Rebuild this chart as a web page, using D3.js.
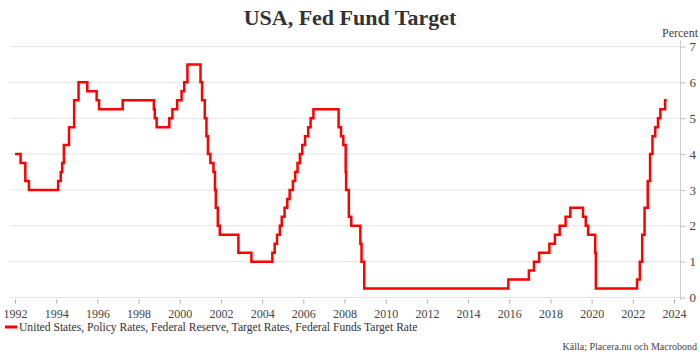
<!DOCTYPE html>
<html><head><meta charset="utf-8">
<script src="https://cdn.jsdelivr.net/npm/d3@7"></script>
<style>
body{margin:0;background:#fff;}
svg{display:block;}
</style></head>
<body>
<svg id="c" width="700" height="357"></svg>
<script>
const changeDates = ["1992-01-01","1992-04-09","1992-07-02","1992-09-04","1994-02-04","1994-03-22","1994-04-18","1994-05-17","1994-08-16","1994-11-15","1995-02-01","1995-07-06","1995-12-19","1996-01-31","1997-03-25","1998-09-29","1998-10-15","1998-11-17","1999-06-30","1999-08-24","1999-11-16","2000-02-02","2000-03-21","2000-05-16","2001-01-03","2001-01-31","2001-03-20","2001-04-18","2001-05-15","2001-06-27","2001-08-21","2001-09-17","2001-10-02","2001-11-06","2001-12-11","2002-11-06","2003-06-25","2004-06-30","2004-08-10","2004-09-21","2004-11-10","2004-12-14","2005-02-02","2005-03-22","2005-05-03","2005-06-30","2005-08-09","2005-09-20","2005-11-01","2005-12-13","2006-01-31","2006-03-28","2006-05-10","2006-06-29","2007-09-18","2007-10-31","2007-12-11","2008-01-22","2008-01-30","2008-03-18","2008-04-30","2008-10-08","2008-10-29","2008-12-16","2015-12-16","2016-12-14","2017-03-15","2017-06-14","2017-12-13","2018-03-21","2018-06-13","2018-09-26","2018-12-19","2019-08-01","2019-09-19","2019-10-31","2020-03-04","2020-03-16","2022-03-17","2022-05-05","2022-06-16","2022-07-28","2022-09-22","2022-11-03","2022-12-15","2023-02-02","2023-03-23","2023-05-04","2023-07-27","2023-08-25"];
const rateValues = [4.00,3.75,3.25,3.00,3.25,3.50,3.75,4.25,4.75,5.50,6.00,5.75,5.50,5.25,5.50,5.25,5.00,4.75,5.00,5.25,5.50,5.75,6.00,6.50,6.00,5.50,5.00,4.50,4.00,3.75,3.50,3.00,2.50,2.00,1.75,1.25,1.00,1.25,1.50,1.75,2.00,2.25,2.50,2.75,3.00,3.25,3.50,3.75,4.00,4.25,4.50,4.75,5.00,5.25,4.75,4.50,4.25,3.50,3.00,2.25,2.00,1.50,1.00,0.25,0.50,0.75,1.00,1.25,1.50,1.75,2.00,2.25,2.50,2.25,2.00,1.75,1.25,0.25,0.50,1.00,1.75,2.50,3.25,4.00,4.50,4.75,5.00,5.25,5.50,5.50];
const yTicks = [0,1,2,3,4,5,6,7];
const xTickYears = [1992,1994,1996,1998,2000,2002,2004,2006,2008,2010,2012,2014,2016,2018,2020,2022,2024];
const titleText = "USA, Fed Fund Target";
const unitText = "Percent";
const legendText = "United States, Policy Rates, Federal Reserve, Target Rates, Federal Funds Target Rate";
const sourceText = "Källa; Placera.nu och Macrobond";

const parse = d3.timeParse("%Y-%m-%d");
const data = changeDates.map((d,i)=>({date:parse(d), v:rateValues[i]}));

const svg = d3.select("#c");
const serif = "'Liberation Serif','DejaVu Serif',serif";
const x = d3.scaleTime().domain([new Date(1992,0,1), new Date(2024,0,1)]).range([15,674]);
const y = d3.scaleLinear().domain([0,7]).range([297.5,46.5]);

// gridlines
svg.append("g").selectAll("line").data(yTicks).join("line")
  .attr("x1",10).attr("x2",680).attr("y1",d=>y(d)).attr("y2",d=>y(d))
  .attr("stroke","#e3e3e3").attr("stroke-width",1);

// right axis
const yAxis = d3.axisRight(y).tickValues(yTicks).tickSize(5).tickPadding(4).tickFormat(d3.format("d"));
const gy = svg.append("g").attr("transform","translate(680.5,0)").call(yAxis);
gy.select(".domain").attr("d","M0,40V300").attr("stroke","#ccc");
gy.selectAll(".tick line").attr("stroke","#bbb");
gy.selectAll("text").attr("font-family",serif).attr("font-size",13).attr("fill","#444");

// bottom axis
const xAxis = d3.axisBottom(x).tickValues(xTickYears.map(yr=>new Date(yr,0,1))).tickSize(4).tickPadding(6).tickFormat(d3.timeFormat("%Y"));
const gx = svg.append("g").attr("transform","translate(0,299.5)").call(xAxis);
gx.select(".domain").remove();
gx.selectAll(".tick line").attr("stroke","#aaa");
gx.selectAll("text").attr("font-family",serif).attr("font-size",12).attr("fill","#444");

// line
svg.append("path").datum(data)
  .attr("d", d3.line().x(d=>x(d.date)).y(d=>y(d.v)).curve(d3.curveStepAfter))
  .attr("fill","none").attr("stroke","#ff0000").attr("stroke-width",2.5).attr("stroke-linejoin","miter");

// title
svg.append("text").attr("x",350).attr("y",25).attr("text-anchor","middle")
  .attr("font-family",serif).attr("font-weight","bold").attr("font-size",22).attr("fill","#333").text(titleText);
svg.append("text").attr("x",698).attr("y",37).attr("text-anchor","end")
  .attr("font-family",serif).attr("font-size",12).attr("fill","#444").text(unitText);

// legend
svg.append("line").attr("x1",5).attr("x2",17).attr("y1",327).attr("y2",327).attr("stroke","#ff0000").attr("stroke-width",3);
svg.append("text").attr("x",19).attr("y",331).attr("font-family",serif).attr("font-size",11.6).attr("fill","#333").text(legendText);
svg.append("text").attr("x",697).attr("y",350).attr("text-anchor","end").attr("font-family",serif).attr("font-size",10).attr("fill","#444").text(sourceText);
</script>
</body></html>
